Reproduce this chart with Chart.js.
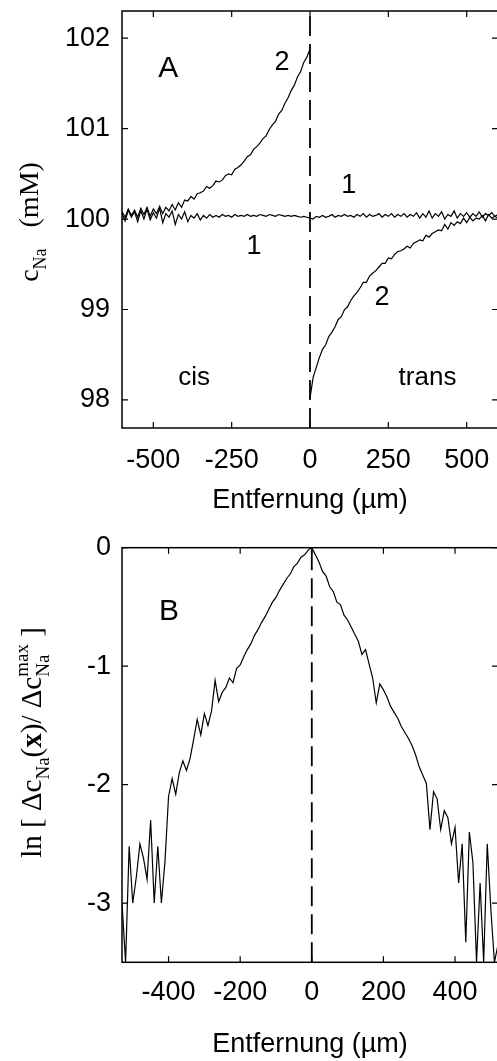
<!DOCTYPE html>
<html>
<head>
<meta charset="utf-8">
<script src="https://cdn.jsdelivr.net/npm/chart.js@4.4.1/dist/chart.umd.min.js"></script>
<style>
  html, body { margin: 0; padding: 0; background: #fff; overflow: hidden; width: 497px; height: 1061px; }
  #wrapA { position: absolute; left: 0; top: 0; width: 500px; height: 530px; }
  #wrapB { position: absolute; left: 0; top: 530px; width: 500px; height: 531px; }
</style>
</head>
<body>
<div id="wrapA"><canvas id="chartA" width="500" height="530"></canvas></div>
<div id="wrapB"><canvas id="chartB" width="500" height="531"></canvas></div>
<script>
// ---- Panel A: Na+ concentration profiles across the membrane (x = 0) ----
const xA = [-600,-590,-580,-570,-560,-550,-540,-530,-520,-510,-500,-490,-480,-470,-460,-450,-440,-430,-420,-410,
  -400,-390,-380,-370,-360,-350,-340,-330,-320,-310,-300,-290,-280,-270,-260,-250,-240,-230,-220,-210,
  -200,-190,-180,-170,-160,-150,-140,-130,-120,-110,-100,-90,-80,-70,-60,-50,-40,-30,-20,-10,
  0,10,20,30,40,50,60,70,80,90,100,110,120,130,140,150,160,170,180,190,
  200,210,220,230,240,250,260,270,280,290,300,310,320,330,340,350,360,370,380,390,
  400,410,420,430,440,450,460,470,480,490,500,510,520,530,540,550,560,570,580,590,600];

// curve 1: no current, flat profile
const naCurve1 = [
  100.06,99.98,100.10,100.02,100.08,99.97,100.09,100.00,100.11,99.99,
  100.07,100.01,100.12,99.96,100.06,100.02,100.09,99.94,100.05,100.00,
  100.08,99.97,100.04,100.01,100.06,99.99,100.04,100.01,100.05,100.02,
  100.04,100.02,100.05,100.03,100.04,100.02,100.05,100.03,100.04,100.03,
  100.05,100.03,100.04,100.03,100.05,100.04,100.03,100.05,100.04,100.03,
  100.05,100.04,100.03,100.04,100.03,100.04,100.03,100.02,100.03,100.02,
  100.01,
  100.00,100.03,100.02,100.04,100.02,100.03,100.05,100.02,100.04,100.03,
  100.05,100.03,100.04,100.02,100.05,100.03,100.06,100.02,100.05,100.03,
  100.04,100.06,100.02,100.05,100.03,100.06,100.02,100.05,100.03,100.06,
  100.02,100.05,100.03,100.07,100.01,100.06,100.02,100.09,100.01,100.06,
  100.03,100.08,100.00,100.05,100.03,100.09,100.01,100.06,100.03,100.07,
  100.02,100.06,100.03,100.08,100.02,100.06,100.04,100.07,100.03,100.05];

// curve 2, cis side (x = -600 ... 0): accumulation
const naCurve2Cis = [
  100.08,100.02,100.11,100.04,100.10,100.02,100.12,100.05,100.13,100.03,
  100.11,100.06,100.14,100.06,100.13,100.09,100.16,100.10,100.18,100.13,
  100.21,100.20,100.25,100.22,100.28,100.29,100.31,100.36,100.34,100.37,
  100.42,100.41,100.43,100.48,100.50,100.49,100.55,100.57,100.60,100.64,
  100.69,100.71,100.77,100.80,100.84,100.89,100.92,100.99,101.04,101.08,
  101.16,101.20,101.28,101.34,101.42,101.48,101.57,101.63,101.73,101.79,
  101.88];

// curve 2, trans side (x = 0 ... 600): depletion
const naCurve2Trans = [
  98.02,98.25,98.36,98.47,98.56,98.61,98.70,98.75,98.81,98.89,
  98.92,99.00,99.03,99.10,99.15,99.19,99.24,99.30,99.30,99.37,
  99.40,99.43,99.47,99.51,99.51,99.57,99.56,99.61,99.64,99.65,
  99.67,99.70,99.68,99.73,99.75,99.77,99.76,99.82,99.80,99.84,
  99.86,99.88,99.87,99.94,99.89,99.96,99.93,99.97,99.95,100.01,
  99.96,100.02,99.98,100.01,100.00,100.04,99.98,100.05,100.01,100.03,
  100.01];

const ticksXA = [-500, -250, 0, 250, 500];
const ticksYA = [98, 99, 100, 101, 102];

// ---- Panel B: logarithm of the normalised concentration change ----
const xB = [-530,-520,-510,-500,-490,-480,-470,-460,-450,-440,-430,-420,-410,-400,-390,-380,-370,-360,-350,-340,
  -330,-320,-310,-300,-290,-280,-270,-260,-250,-240,-230,-220,-210,-200,-190,-180,-170,-160,-150,-140,
  -130,-120,-110,-100,-90,-80,-70,-60,-50,-40,-30,-20,-10,0,
  10,20,30,40,50,60,70,80,90,100,110,120,130,140,150,160,170,180,190,200,
  210,220,230,240,250,260,270,280,290,300,310,320,330,340,350,360,370,380,390,400,
  410,420,430,440,450,460,470,480,490,500,510,520];

const lnRatio = [
  -3.00,-3.50,-2.52,-3.00,-2.78,-2.50,-2.62,-2.80,-2.30,-3.00,
  -2.52,-3.00,-2.65,-2.10,-1.95,-2.08,-1.90,-1.80,-1.88,-1.78,
  -1.62,-1.45,-1.58,-1.40,-1.50,-1.38,-1.12,-1.30,-1.22,-1.18,
  -1.10,-1.14,-1.02,-0.99,-0.92,-0.86,-0.81,-0.74,-0.69,-0.63,
  -0.58,-0.52,-0.46,-0.42,-0.36,-0.31,-0.26,-0.22,-0.16,-0.13,
  -0.08,-0.06,-0.02,0.00,
  -0.06,-0.12,-0.20,-0.24,-0.33,-0.37,-0.46,-0.48,-0.57,-0.61,
  -0.67,-0.73,-0.79,-0.90,-0.86,-0.98,-1.10,-1.31,-1.15,-1.20,
  -1.26,-1.34,-1.39,-1.44,-1.51,-1.56,-1.61,-1.67,-1.75,-1.85,
  -1.92,-1.99,-2.38,-2.06,-2.12,-2.38,-2.22,-2.28,-2.50,-2.36,
  -2.83,-2.50,-3.33,-2.40,-2.66,-3.50,-2.83,-3.50,-2.50,-3.05,
  -3.50,-3.35];

const ticksXB = [-400, -200, 0, 200, 400];
const ticksYB = [-3, -2, -1, 0];

// ---- styling ----
const SANS = '"Liberation Sans", Arial, Helvetica, sans-serif';
const SERIF = '"Liberation Serif", "Times New Roman", Times, serif';
const TICK_FONT = { family: SANS, size: 27 };

const pts = (xs, ys) => ys.map((y, i) => ({ x: xs[i], y }));

function curve(data) {
  return { data, showLine: true, borderColor: '#000', borderWidth: 1.2, pointRadius: 0, tension: 0, fill: false };
}
function divider(yMin, yMax) {
  return { data: [{ x: 0, y: yMin }, { x: 0, y: yMax }], showLine: true, borderColor: '#000',
           borderWidth: 1.8, borderDash: [20, 8], pointRadius: 0, fill: false };
}

// frame around the plot area with inward tick marks on all four sides
const framePlugin = {
  id: 'frame',
  afterDatasetsDraw(chart) {
    const { ctx, chartArea: a, scales: { x, y } } = chart;
    ctx.save();
    ctx.strokeStyle = '#000';
    ctx.lineWidth = 1.5;
    ctx.strokeRect(a.left, a.top, a.right - a.left, a.bottom - a.top);
    const L = 6;
    ctx.beginPath();
    x.ticks.forEach(t => {
      const p = x.getPixelForValue(t.value);
      ctx.moveTo(p, a.bottom); ctx.lineTo(p, a.bottom - L);
      ctx.moveTo(p, a.top); ctx.lineTo(p, a.top + L);
    });
    y.ticks.forEach(t => {
      const p = y.getPixelForValue(t.value);
      ctx.moveTo(a.left, p); ctx.lineTo(a.left + L, p);
      ctx.moveTo(a.right, p); ctx.lineTo(a.right - L, p);
    });
    ctx.lineWidth = 1.2;
    ctx.stroke();
    ctx.restore();
  }
};

// in-plot annotations anchored in data coordinates (baseline, centred)
const notesPlugin = {
  id: 'notes',
  afterDatasetsDraw(chart, args, opts) {
    const { ctx, scales: { x, y } } = chart;
    ctx.save();
    ctx.fillStyle = '#000';
    ctx.textAlign = 'center';
    ctx.textBaseline = 'alphabetic';
    (opts.items || []).forEach(n => {
      ctx.font = n.size + 'px ' + SANS;
      ctx.fillText(n.t, x.getPixelForValue(n.x), y.getPixelForValue(n.y));
    });
    ctx.restore();
  }
};

// rotated y-axis title with sub- and superscripts
const yTitlePlugin = {
  id: 'yTitle',
  afterDraw(chart, args, opts) {
    const { ctx } = chart;
    const main = opts.size, small = Math.round(opts.size * 0.66);
    const fontOf = (sz, bold) => (bold ? 'bold ' : '') + sz + 'px ' + SERIF;
    const widthOf = p => {
      if (p.stack) {
        ctx.font = fontOf(small);
        return Math.max(ctx.measureText(p.sub).width, ctx.measureText(p.sup).width);
      }
      ctx.font = fontOf(p.small ? small : main, p.bold);
      return ctx.measureText(p.t).width;
    };
    const total = opts.parts.reduce((s, p) => s + widthOf(p), 0);
    ctx.save();
    ctx.fillStyle = '#000';
    ctx.textBaseline = 'alphabetic';
    ctx.textAlign = 'left';
    ctx.translate(opts.x, opts.y);
    ctx.rotate(-Math.PI / 2);
    let cx = -total / 2;
    opts.parts.forEach(p => {
      const w = widthOf(p);
      if (p.stack) {
        ctx.font = fontOf(small);
        ctx.fillText(p.sub, cx, main * 0.28);
        ctx.fillText(p.sup, cx, -main * 0.45);
      } else {
        ctx.font = fontOf(p.small ? small : main, p.bold);
        ctx.fillText(p.t, cx, p.small ? main * 0.28 : 0);
      }
      cx += w;
    });
    ctx.restore();
  }
};

function xScale(min, max, ticks, height, tickPad, titlePad) {
  return {
    type: 'linear', min, max,
    afterBuildTicks: s => { s.ticks = ticks.map(v => ({ value: v })); },
    afterFit: s => { s.height = height; s.paddingLeft = 0; s.paddingRight = 0; },
    grid: { display: false, drawTicks: false },
    border: { display: false },
    ticks: { padding: tickPad, font: TICK_FONT, color: '#000', maxRotation: 0, autoSkip: false },
    title: { display: true, text: 'Entfernung (µm)', color: '#000',
             font: { family: SANS, size: 27 }, padding: { top: 0, bottom: titlePad } }
  };
}
function yScale(min, max, ticks, tickPad) {
  return {
    type: 'linear', min, max,
    afterBuildTicks: s => { s.ticks = ticks.map(v => ({ value: v })); },
    afterFit: s => { s.width = 122; s.paddingTop = 0; s.paddingBottom = 0; },
    grid: { display: false, drawTicks: false },
    border: { display: false },
    ticks: { padding: tickPad, font: TICK_FONT, color: '#000', autoSkip: false }
  };
}

const yMinA = 97.69, yMaxA = 102.3;
new Chart(document.getElementById('chartA'), {
  type: 'scatter',
  data: {
    datasets: [
      curve(pts(xA, naCurve1)),
      curve(pts(xA.slice(0, 61), naCurve2Cis)),
      curve(pts(xA.slice(60), naCurve2Trans)),
      divider(yMinA, yMaxA)
    ]
  },
  options: {
    responsive: false, animation: false, devicePixelRatio: 1,
    layout: { autoPadding: false, padding: { top: 11, right: 2, left: 0, bottom: 0 } },
    plugins: {
      legend: { display: false }, tooltip: { enabled: false },
      notes: { items: [
        { t: 'A', x: -452, y: 101.572, size: 30 },
        { t: '2', x: -89, y: 101.65, size: 27 },
        { t: '1', x: 124, y: 100.29, size: 27 },
        { t: '1', x: -179, y: 99.61, size: 27 },
        { t: '2', x: 230, y: 99.05, size: 27 },
        { t: 'cis', x: -370, y: 98.166, size: 26 },
        { t: 'trans', x: 375, y: 98.166, size: 26 }
      ] },
      yTitle: { x: 38, y: 222, size: 28, parts: [
        { t: 'c' }, { t: 'Na', small: true }, { t: '   (mM)' }
      ] }
    },
    scales: {
      x: xScale(-600, 600, ticksXA, 102, 16, 13),
      y: yScale(yMinA, yMaxA, ticksYA, 12)
    }
  },
  plugins: [framePlugin, notesPlugin, yTitlePlugin]
});

const yMinB = -3.5, yMaxB = 0;
new Chart(document.getElementById('chartB'), {
  type: 'scatter',
  data: {
    datasets: [
      curve(pts(xB, lnRatio)),
      divider(yMinB, yMaxB)
    ]
  },
  options: {
    responsive: false, animation: false, devicePixelRatio: 1,
    layout: { autoPadding: false, padding: { top: 17.7, right: 2, left: 0, bottom: 0 } },
    plugins: {
      legend: { display: false }, tooltip: { enabled: false },
      notes: { items: [ { t: 'B', x: -399, y: -0.61, size: 30 } ] },
      yTitle: { x: 41, y: 212.5, size: 29, parts: [
        { t: 'ln [ ' }, { t: 'Δc' }, { t: 'Na', small: true }, { t: '(' }, { t: 'x', bold: true },
        { t: ')/ ' }, { t: 'Δc' }, { stack: true, sub: 'Na', sup: 'max' }, { t: ' ]' }
      ] }
    },
    scales: {
      x: xScale(-530, 520, ticksXB, 98.7, 14, 0),
      y: yScale(yMinB, yMaxB, ticksYB, 11)
    }
  },
  plugins: [framePlugin, notesPlugin, yTitlePlugin]
});
</script>
</body>
</html>
